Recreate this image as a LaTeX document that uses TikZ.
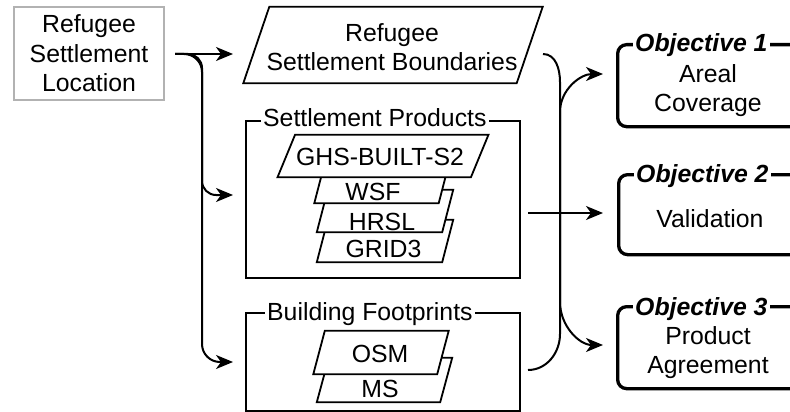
\documentclass[tikz,border=0pt]{standalone}
\usepackage{fontspec}
\setmainfont{Liberation Sans}
\usetikzlibrary{calc,arrows.meta}
\newcommand{\mypgram}[6]{%
  \node[minimum width=#4pt, minimum height=#5pt, inner sep=0pt, draw=none] (#1) at (#2,#3) {};
  \draw[pline] ($(#1.north west)+(#6/2,0)$) -- ($(#1.north east)+(#6/2,0)$) --
    ($(#1.south east)+(-#6/2,0)$) -- ($(#1.south west)+(-#6/2,0)$) -- cycle;}
\begin{document}
\begin{tikzpicture}[x=1pt,y=-1pt,
  font=\fontsize{24.8}{29.5}\selectfont,
  conn/.style={line width=2pt, -{Stealth[length=17pt,width=14pt,inset=5pt]}},
  pline/.style={draw, line width=1.8pt, fill=white, line join=miter},
  grp/.style={draw, line width=2pt, inner sep=0pt, anchor=north west},
  ttl/.style={fill=white, inner xsep=2pt, inner ysep=1pt, anchor=base west},
  obj/.style={draw, line width=3.3pt, rounded corners=9pt, inner sep=0pt, anchor=north west, minimum width=190pt},
  otitle/.style={fill=white, font=\fontsize{24.8}{29.5}\selectfont\bfseries\itshape, anchor=base west, inner xsep=2pt, inner ysep=1pt},
  inbox/.style={draw=gray!60, line width=2pt, minimum width=150pt, minimum height=93pt, align=center, inner sep=0pt}]
\useasboundingbox (0,0) rectangle (790,412);

% input
\node[inbox] (in) at (89,53.5) {Refugee\\Settlement\\Location};

% boundaries
\mypgram{bnd}{393}{45}{273}{76}{26}
\node[align=center] (bndt) at (392,47) {Refugee\\Settlement Boundaries};

% settlement products group
\node[grp, minimum width=274pt, minimum height=157pt] (prod) at (245,120) {};
\node[ttl] (prodt) at (261,126.5) {Settlement Products};
\mypgram{grid}{385}{241}{125}{42}{11}
\mypgram{hrsl}{385}{211}{125}{42}{11}
\mypgram{wsf}{382}{182}{124}{42}{11}
\mypgram{ghs}{383}{156}{193}{42}{17.5}
\node[anchor=base] (ghst) at (380,165) {GHS-BUILT-S2};
\node[anchor=base] (wsft) at (373,200) {WSF};
\node[anchor=base] (hrslt) at (382,230) {HRSL};
\node[anchor=base] (gridt) at (383.5,257) {GRID3};

% building footprints group
\node[grp, minimum width=274pt, minimum height=97.5pt] (foot) at (245,312) {};
\node[ttl] (foott) at (265,320) {Building Footprints};
\mypgram{ms}{384.5}{380}{123}{44}{12}
\mypgram{osm}{381}{352.5}{123.5}{43}{11.5}
\node[anchor=base] (osmt) at (380,362) {OSM};
\node[anchor=base] (mst) at (380,397) {MS};

% objectives
\begin{scope}
\clip (0,0) rectangle (790,412);
\node[obj, minimum height=82pt] (obj1) at (616,43) {};
\node[obj, minimum height=80pt] (obj2) at (617,173) {};
\node[obj, minimum height=82pt] (obj3) at (616,305) {};
\node[otitle] (obj1t) at (633,52) {Objective 1};
\node[otitle] (obj2t) at (634,182) {Objective 2};
\node[otitle] (obj3t) at (633,315) {Objective 3};
\end{scope}
\node[align=center] (obj1b) at (708,90.6) {Areal\\Coverage};
\node[anchor=base] (obj2b) at (710,227) {Validation};
\node[align=center] (obj3b) at (708,352.6) {Product\\Agreement};

% connectors left
\coordinate (s0) at ($(in.east)+(10,0.5)$);
\coordinate (e1) at (233,54);
\coordinate (e2) at (233,195);
\coordinate (e3) at (233,362);
\draw[conn] (s0) -- (e1);
\draw[conn, rounded corners=14pt] (s0) -| ($(e2)+(-31,0)$) -- (e2);
\draw[conn, rounded corners=18pt] (s0) -| ($(e3)+(-31,0)$) -- (e3);

% connectors right
\coordinate (s1) at (543,54);
\coordinate (s2) at (528,370);
\coordinate (s3) at (528,213);
\coordinate (o1) at (603,74);
\coordinate (o2) at (603,213);
\coordinate (o3) at (603,345);
\coordinate (ttop) at (560,82);
\coordinate (tbot) at (560,334);
\draw[conn] (s3) -- (o2);
\draw[conn] (s1) to[out=0,in=90] (ttop) -- (560,302) to[out=-90,in=180] (o3);
\draw[conn] (s2) to[out=0,in=-90] (tbot) -- (560,112) to[out=90,in=180] (o1);
\end{tikzpicture}
\end{document}
